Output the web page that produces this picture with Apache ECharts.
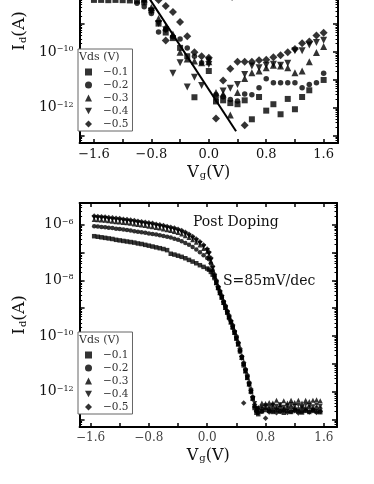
<!DOCTYPE html>
<html><head><meta charset="utf-8">
<script src="https://cdn.jsdelivr.net/npm/echarts@6/dist/echarts.min.js"></script>
<style>html,body{margin:0;padding:0;width:374px;height:484px;overflow:hidden;background:#fff}
#c{position:absolute;left:0;top:-90px;width:374px;height:574px}</style>
</head><body><div id="c"></div>
<script>
// ---------- DATA (log10 of Id in A, Vg in V) ----------
const seriesNames = ['−0.1','−0.2','−0.3','−0.4','−0.5'];
const xTickVals = [-1.6,-1.2,-0.8,-0.4,0,0.4,0.8,1.2,1.6];
const xLabelVals = [-1.6,-0.8,0,0.8,1.6];
const yMajorVals = [-13,-12,-11,-10,-9,-8,-7,-6];
const yLabelExps = [-12,-10,-8,-6];

// top panel scatter, [Vg, log10 Id]
const topSq = [[-1.6,-8.13],[-1.5,-8.13],[-1.4,-8.14],[-1.3,-8.13],[-1.2,-8.14],[-1.1,-8.15],[-1.0,-8.16],[-0.9,-8.22],[-0.8,-8.5],[-0.7,-8.98],[-0.6,-9.3],[-0.5,-9.5],[-0.4,-9.85],[-0.3,-10.15],[-0.2,-11.62],[0.0,-10.68],[0.1,-11.77],[0.2,-11.73],[0.3,-11.83],[0.4,-11.87],[0.5,-11.73],[0.6,-12.41],[0.7,-11.61],[0.8,-12.1],[0.9,-11.87],[1.0,-12.23],[1.1,-11.68],[1.2,-12.05],[1.3,-11.61],[1.4,-11.37],[1.6,-11.0]];
const topCi = [[-1.6,-7.95],[-1.5,-7.95],[-1.4,-7.96],[-1.3,-7.97],[-1.2,-7.98],[-1.1,-8.05],[-1.0,-8.25],[-0.9,-8.38],[-0.8,-8.62],[-0.7,-9.28],[-0.6,-9.2],[-0.5,-9.45],[-0.4,-9.53],[-0.3,-9.85],[-0.2,-10.15],[-0.1,-10.38],[0.0,-10.25],[0.1,-11.53],[0.2,-11.6],[0.3,-11.7],[0.4,-11.75],[0.5,-11.5],[0.6,-11.53],[0.7,-11.28],[0.8,-10.96],[0.9,-11.1],[1.0,-11.1],[1.1,-11.1],[1.2,-11.1],[1.3,-11.28],[1.4,-11.16],[1.5,-11.1],[1.6,-10.76]];
const topTr = [[-1.6,-7.85],[-1.4,-7.86],[-1.2,-7.88],[-1.0,-7.95],[-0.9,-8.1],[-0.8,-8.4],[-0.7,-8.8],[-0.6,-9.1],[-0.5,-9.35],[-0.4,-10.01],[-0.3,-10.25],[-0.2,-10.32],[-0.1,-10.38],[0.0,-10.35],[0.1,-11.45],[0.2,-11.5],[0.3,-12.26],[0.4,-11.45],[0.5,-10.95],[0.6,-10.74],[0.7,-10.68],[0.8,-10.56],[0.9,-10.47],[1.0,-10.5],[1.1,-10.56],[1.2,-10.74],[1.3,-10.68],[1.4,-10.35],[1.5,-10.02],[1.6,-9.8]];
const topDn = [[-1.6,-7.8],[-1.3,-7.82],[-1.0,-7.9],[-0.9,-8.2],[-0.8,-8.55],[-0.7,-8.98],[-0.6,-9.2],[-0.5,-10.76],[-0.4,-10.38],[-0.3,-11.25],[-0.2,-10.9],[-0.1,-11.2],[0.0,-10.45],[0.1,-11.71],[0.2,-11.4],[0.3,-11.3],[0.4,-11.16],[0.5,-10.8],[0.6,-10.5],[0.7,-10.56],[0.8,-10.47],[0.9,-10.44],[1.0,-10.47],[1.1,-10.4],[1.2,-9.95],[1.3,-9.95],[1.4,-9.75],[1.5,-9.66],[1.6,-9.58]];
const topDi = [[-1.6,-7.7],[-1.2,-7.75],[-0.9,-7.9],[-0.8,-8.0],[-0.7,-8.13],[-0.6,-8.35],[-0.6,-9.59],[-0.5,-8.56],[-0.4,-8.92],[-0.3,-9.43],[-0.2,-10.01],[-0.1,-10.15],[0.0,-10.2],[0.1,-12.38],[0.2,-11.02],[0.3,-10.6],[0.4,-10.35],[0.5,-10.35],[0.5,-12.62],[0.6,-10.35],[0.7,-10.29],[0.8,-10.28],[0.9,-10.19],[1.0,-10.11],[1.1,-10.01],[1.2,-9.89],[1.3,-9.68],[1.4,-9.62],[1.5,-9.41],[1.6,-9.31]];
const topFit = [[-0.95,-7.6],[0.38,-12.84]];

// bottom panel: common Vg grid and log10 Id per Vds
const botV = [-1.55,-1.5,-1.45,-1.4,-1.35,-1.3,-1.25,-1.2,-1.15,-1.1,-1.05,-1.0,-0.95,-0.9,-0.85,-0.8,-0.75,-0.7,-0.65,-0.6,-0.55,-0.5,-0.45,-0.4,-0.35,-0.3,-0.25,-0.2,-0.15,-0.1,-0.05,0,
  0.025,0.05,0.075,0.1,0.125,0.15,0.175,0.2,0.225,0.25,0.275,0.3,0.325,0.35,0.375,0.4,0.425,0.45,0.475,0.5,0.525,0.55,0.575,0.6,0.625,0.65,0.675,
  0.7,0.75,0.8,0.85,0.9,0.95,1.0,1.05,1.1,1.15,1.2,1.25,1.3,1.35,1.4,1.45,1.5,1.55];
const botSq = [-6.42,-6.44,-6.46,-6.48,-6.50,-6.52,-6.55,-6.57,-6.59,-6.61,-6.63,-6.65,-6.68,-6.70,-6.73,-6.76,-6.79,-6.82,-6.85,-6.88,-6.92,-7.05,-7.08,-7.12,-7.16,-7.21,-7.27,-7.33,-7.39,-7.46,-7.52,-7.58,
  -7.62,-7.70,-7.80,-7.92,-8.10,-8.28,-8.45,-8.62,-8.80,-8.98,-9.15,-9.35,-9.50,-9.70,-9.88,-10.08,-10.30,-10.55,-10.78,-11.05,-11.25,-11.50,-11.72,-12.00,-12.25,-12.58,-12.75,
  -12.80,-12.70,-12.65,-12.68,-12.72,-12.66,-12.70,-12.75,-12.68,-12.72,-12.66,-12.70,-12.74,-12.68,-12.72,-12.66,-12.70,-12.73];
const botCi = [-6.06,-6.07,-6.09,-6.10,-6.12,-6.13,-6.15,-6.16,-6.18,-6.20,-6.22,-6.24,-6.26,-6.28,-6.30,-6.32,-6.34,-6.36,-6.39,-6.41,-6.44,-6.47,-6.51,-6.55,-6.60,-6.66,-6.73,-6.81,-6.90,-7.00,-7.10,-7.20,
  -7.25,-7.40,-7.65,-7.85,-8.05,-8.25,-8.42,-8.62,-8.78,-8.95,-9.12,-9.32,-9.48,-9.65,-9.85,-10.05,-10.26,-10.52,-10.74,-11.00,-11.22,-11.45,-11.70,-11.95,-12.20,-12.52,-12.68,
  -12.65,-12.60,-12.58,-12.62,-12.55,-12.60,-12.57,-12.62,-12.58,-12.55,-12.60,-12.62,-12.57,-12.60,-12.55,-12.62,-12.58,-12.60];
const botTr = [-5.82,-5.83,-5.84,-5.85,-5.87,-5.88,-5.90,-5.91,-5.93,-5.94,-5.96,-5.98,-6.00,-6.02,-6.04,-6.06,-6.08,-6.11,-6.13,-6.16,-6.19,-6.22,-6.25,-6.29,-6.34,-6.40,-6.47,-6.55,-6.64,-6.74,-6.86,-6.98,
  -7.10,-7.32,-7.62,-7.86,-8.08,-8.26,-8.45,-8.60,-8.80,-8.98,-9.15,-9.30,-9.50,-9.66,-9.86,-10.08,-10.28,-10.48,-10.76,-10.98,-11.25,-11.48,-11.72,-11.96,-12.22,-12.50,-12.60,
  -12.55,-12.40,-12.42,-12.38,-12.40,-12.30,-12.45,-12.32,-12.40,-12.30,-12.38,-12.30,-12.40,-12.30,-12.35,-12.30,-12.28,-12.32];
const botDn = [-5.76,-5.77,-5.78,-5.79,-5.81,-5.82,-5.84,-5.85,-5.87,-5.88,-5.90,-5.92,-5.94,-5.96,-5.98,-6.00,-6.02,-6.05,-6.07,-6.10,-6.13,-6.16,-6.19,-6.23,-6.28,-6.34,-6.41,-6.49,-6.58,-6.68,-6.80,-6.93,
  -7.05,-7.28,-7.58,-7.88,-8.10,-8.30,-8.50,-8.62,-8.85,-9.02,-9.20,-9.38,-9.52,-9.72,-9.90,-10.12,-10.30,-10.58,-10.80,-11.05,-11.28,-11.50,-11.78,-12.02,-12.25,-12.42,-12.62,
  -12.60,-12.55,-12.50,-12.55,-12.48,-12.52,-12.46,-12.55,-12.50,-12.45,-12.52,-12.48,-12.55,-12.46,-12.50,-12.53,-12.47,-12.52];
const botDi = [-5.70,-5.71,-5.72,-5.73,-5.75,-5.76,-5.78,-5.79,-5.81,-5.82,-5.84,-5.86,-5.88,-5.90,-5.92,-5.94,-5.96,-5.99,-6.01,-6.04,-6.07,-6.10,-6.13,-6.17,-6.22,-6.28,-6.35,-6.43,-6.52,-6.62,-6.74,-6.88,
  -7.00,-7.20,-7.50,-7.78,-8.00,-8.22,-8.38,-8.55,-8.75,-8.90,-9.10,-9.25,-9.45,-9.60,-9.82,-10.00,-10.22,-10.45,-10.72,-10.95,-11.18,-11.40,-11.66,-11.90,-12.18,-12.45,-12.70,
  -12.75,-12.70,-12.95,-12.72,-12.68,-12.75,-12.70,-12.66,-12.74,-12.70,-12.68,-12.76,-12.70,-12.65,-12.72,-12.68,-12.74,-12.70];
const botDiExtra = [[0.5,-12.4]];

// ---------- CHART ----------
const FONT = '"DejaVu Serif","Liberation Serif",serif';
const OFF = 90;
const yMin = -13.26, yMax = -5.23;
const yMinorVals = [];
for (let n = -14; n <= -6; n++) for (let k = 2; k <= 9; k++) {
  const v = n + Math.log10(k); if (v > yMin && v < yMax) yMinorVals.push(v);
}
const panels = [
  {grid:{left:67, top:9, width:271, height:224}, xMin:-1.8, xMax:1.8, lc:'#111', ls:13, nameGapX:20},
  {grid:{left:66, top:293, width:271, height:224}, xMin:-1.75, xMax:1.78, lc:'#444', ls:12, nameGapX:20}
];
const nameRich = {
  n:{fontFamily:FONT, fontSize:16, lineHeight:16, color:'#111', verticalAlign:'top'},
  s:{fontFamily:FONT, fontSize:10, lineHeight:10, color:'#111', verticalAlign:'bottom', padding:[9,0,0,1]}
};
const nameRichY = {
  n:{fontFamily:FONT, fontSize:17, lineHeight:17, color:'#111', verticalAlign:'top'},
  s:{fontFamily:FONT, fontSize:10, lineHeight:10, color:'#111', verticalAlign:'bottom', padding:[10,0,0,1]}
};
const fmtX = v => (v < 0 ? '−' : '') + Math.abs(v).toFixed(1);
const fmtY = v => '{b|10}{p|−' + Math.abs(Math.round(v)) + '}';
const axLine = {onZero:false, lineStyle:{color:'#000', width:2}};
const noLine = {show:false, onZero:false};
const xAxes = [], yAxes = [];
panels.forEach((p, g) => {
  xAxes.push({gridIndex:g, type:'value', min:p.xMin, max:p.xMax, position:'bottom',
    axisLine:axLine, splitLine:{show:false},
    axisTick:{inside:true, length:4, customValues:xTickVals, lineStyle:{color:'#000', width:1.5}},
    axisLabel:{customValues:xLabelVals, formatter:fmtX, color:p.lc, fontFamily:FONT, fontSize:p.ls, margin:5},
    name:'{n|V}{s|g}{n|(V)}', nameLocation:'middle', nameGap:p.nameGapX, nameTextStyle:{rich:nameRich}});
  xAxes.push({gridIndex:g, type:'value', min:p.xMin, max:p.xMax, position:'top',
    axisLine:axLine, splitLine:{show:false},
    axisTick:{inside:true, length:4, customValues:xTickVals, lineStyle:{color:'#000', width:1.5}},
    axisLabel:{show:false}});
  const yBase = {gridIndex:g, type:'value', min:yMin, max:yMax, splitLine:{show:false}};
  yAxes.push(Object.assign({}, yBase, {position:'left', axisLine:axLine,
    axisTick:{inside:true, length:5, customValues:yMajorVals, lineStyle:{color:'#000', width:1.5}},
    axisLabel:{customValues:yLabelExps, formatter:fmtY, margin:6, color:'#111',
      rich:{b:{fontFamily:FONT, fontSize:14, lineHeight:14, verticalAlign:'bottom', color:'#111'},
            p:{fontFamily:FONT, fontSize:8, lineHeight:8, verticalAlign:'top', padding:[0,0,8,0], color:'#111'}}},
    name:'{n|I}{s|d}{n|(A)}', nameLocation:'middle', nameRotate:90, nameGap:38, nameTextStyle:{rich:nameRichY}}));
  yAxes.push(Object.assign({}, yBase, {position:'left', axisLine:noLine,
    axisTick:{inside:true, length:2.5, customValues:yMinorVals, lineStyle:{color:'#000', width:1}},
    axisLabel:{show:false}}));
  yAxes.push(Object.assign({}, yBase, {position:'right', axisLine:axLine,
    axisTick:{inside:true, length:5, customValues:yMajorVals, lineStyle:{color:'#000', width:1.5}},
    axisLabel:{show:false}}));
  yAxes.push(Object.assign({}, yBase, {position:'right', axisLine:noLine,
    axisTick:{inside:true, length:2.5, customValues:yMinorVals, lineStyle:{color:'#000', width:1}},
    axisLabel:{show:false}}));
});

const symbols = ['rect','circle','triangle','path://M0,0L10,0L5,9Z','diamond'];
const topSizes = [6,5.5,7,7,8];
const botSizes = [4.5,4.5,5,5,5.5];
const topData = [topSq, topCi, topTr, topDn, topDi];
const botData = [botSq, botCi, botTr, botDn, botDi].map((arr, i) => {
  const d = arr.map((y, j) => [botV[j], y]);
  if (i === 4) botDiExtra.forEach(pt => d.push(pt));
  return d;
});
const series = [];
seriesNames.forEach((nm, i) => {
  series.push({type:'scatter', name:nm, xAxisIndex:0, yAxisIndex:0, data:topData[i],
    symbol:symbols[i], symbolSize:topSizes[i], itemStyle:{color:'#000'}, z:3});
});
series.push({type:'line', name:'fit', xAxisIndex:0, yAxisIndex:0, data:topFit, symbol:'none',
  lineStyle:{color:'#000', width:2}, z:4});
seriesNames.forEach((nm, i) => {
  series.push({type:'scatter', name:nm, xAxisIndex:2, yAxisIndex:4, data:botData[i],
    symbol:symbols[i], symbolSize:botSizes[i], itemStyle:{color:'#000'}, z:3});
});

const legendBase = {orient:'vertical', left:78, data:seriesNames, itemWidth:7, itemHeight:7, itemGap:1,
  padding:[17,4,1,7], borderColor:'#666', borderWidth:1, backgroundColor:'#fff', selectedMode:false,
  textStyle:{fontFamily:FONT, fontSize:10.5, lineHeight:12, color:'#333', padding:[0,0,0,6]}};

const chart = echarts.init(document.getElementById('c'), null, {renderer:'canvas'});
chart.setOption({
  animation:false,
  backgroundColor:'#fff',
  grid:panels.map(p => p.grid),
  xAxis:xAxes,
  yAxis:yAxes,
  legend:[Object.assign({}, legendBase, {top:49+OFF}), Object.assign({}, legendBase, {top:332+OFF})],
  series:series,
  graphic:[
    {type:'text', left:79, top:49+OFF+3, z:100, style:{text:'Vds (V)', fontFamily:FONT, fontSize:11, fill:'#333'}},
    {type:'text', left:79, top:332+OFF+3, z:100, style:{text:'Vds (V)', fontFamily:FONT, fontSize:11, fill:'#333'}},
    {type:'text', left:193, top:215+OFF, z:100, style:{text:'Post Doping', fontFamily:FONT, fontSize:14, fill:'#111'}},
    {type:'text', left:223, top:274+OFF, z:100, style:{text:'S=85mV/dec', fontFamily:FONT, fontSize:14, fill:'#111'}},
    {type:'text', left:160, top:OFF-12, z:100, style:{text:'S=250mV/dec', fontFamily:FONT, fontSize:14, fill:'#111'}}
  ]
});
</script></body></html>
